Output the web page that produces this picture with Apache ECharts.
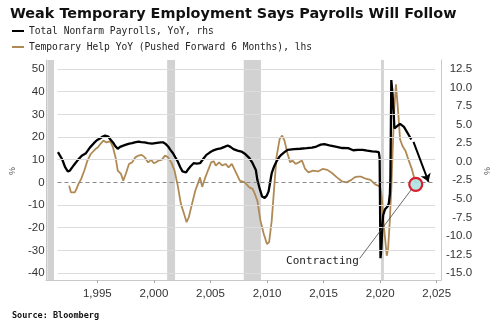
<!DOCTYPE html>
<html>
<head>
<meta charset="utf-8">
<script src="https://cdn.jsdelivr.net/npm/echarts@6/dist/echarts.min.js"></script>
<style>html,body{margin:0;padding:0;background:#fff;}#c{width:500px;height:327px;}</style>
</head>
<body>
<div id="c"></div>
<script>
// ---- data ----
const payrollYears = [1990.5,1990.64,1990.9,1991.15,1991.41,1991.6,1991.76,1992.0,1992.35,1992.7,1993.09,1993.45,1993.82,1994.1,1994.42,1994.65,1994.86,1995.0,1995.15,1995.35,1995.59,1995.8,1996.03,1996.25,1996.48,1996.8,1997.1,1997.36,1997.6,1997.95,1998.2,1998.5,1998.84,1999.2,1999.66,2000.0,2000.25,2000.45,2000.69,2000.9,2001.14,2001.35,2001.58,2001.8,2002.02,2002.2,2002.35,2002.55,2002.75,2003.05,2003.35,2003.64,2003.95,2004.23,2004.5,2004.82,2005.2,2005.56,2005.9,2006.2,2006.45,2006.73,2007.1,2007.47,2007.85,2008.21,2008.5,2008.8,2008.94,2009.15,2009.38,2009.62,2009.8,2009.98,2010.12,2010.27,2010.5,2010.71,2010.95,2011.15,2011.45,2011.74,2012.33,2012.9,2013.5,2014.0,2014.4,2014.8,2015.13,2015.6,2016.17,2016.8,2017.34,2017.8,2018.23,2018.68,2019.1,2019.56,2019.9,2020.17,2020.25,2020.33,2020.42,2020.5,2020.58,2020.75,2021.0,2021.1,2021.2,2021.25,2021.33,2021.45,2021.55,2021.62,2021.76,2021.95,2022.14,2022.5,2022.94,2023.18];
const payrollValues = [1.3,1.15,0.3,-0.7,-1.32,-1.2,-1.0,-0.4,0.25,0.8,1.15,1.9,2.5,2.9,3.17,3.4,3.52,3.5,3.4,3.0,2.6,2.1,1.75,2.0,2.14,2.3,2.45,2.5,2.6,2.7,2.65,2.6,2.5,2.45,2.55,2.6,2.6,2.4,2.05,1.6,1.15,0.6,0.03,-0.7,-1.3,-1.45,-1.45,-1.0,-0.65,-0.2,-0.25,-0.2,0.4,0.93,1.2,1.5,1.7,1.8,2.0,2.18,2.0,1.7,1.5,1.37,1.0,0.48,-0.2,-1.1,-2.44,-3.6,-4.7,-4.9,-4.6,-4.0,-2.8,-1.54,-0.6,0.03,0.6,0.93,1.3,1.6,1.7,1.75,1.83,1.9,2.05,2.3,2.36,2.2,2.05,1.85,1.83,1.55,1.6,1.6,1.5,1.4,1.35,1.3,0.5,-13.0,-11.5,-8.8,-7.2,-6.4,-6.0,-5.6,-4.3,-2.0,11.0,9.0,6.5,4.5,4.7,4.9,5.1,4.7,3.6,3.0];

const tempYears = [1991.53,1991.7,1992.06,1992.25,1992.4,1992.65,1992.94,1993.23,1993.53,1993.97,1994.2,1994.42,1994.7,1995.0,1995.3,1995.45,1995.59,1995.83,1996.03,1996.33,1996.54,1996.77,1997.07,1997.36,1997.65,1997.95,1998.24,1998.54,1998.84,1999.13,1999.35,1999.57,1999.8,2000.1,2000.4,2000.69,2000.98,2001.28,2001.58,2001.87,2002.16,2002.4,2002.6,2002.9,2003.2,2003.43,2003.64,2003.84,2004.08,2004.37,2004.67,2004.9,2005.1,2005.4,2005.7,2006.0,2006.28,2006.58,2006.88,2007.1,2007.32,2007.77,2008.2,2008.5,2008.7,2008.94,2009.23,2009.53,2009.83,2010.03,2010.27,2010.5,2010.71,2011.0,2011.24,2011.45,2011.74,2011.98,2012.19,2012.48,2012.77,2013.07,2013.36,2013.66,2014.1,2014.54,2014.98,2015.42,2015.87,2016.3,2016.75,2017.2,2017.64,2017.93,2018.2,2018.52,2018.96,2019.4,2019.84,2020.29,2020.44,2020.59,2020.73,2020.91,2021.03,2021.18,2021.33,2021.47,2021.62,2021.76,2021.85,2021.97,2022.14,2022.36,2022.65,2022.85,2023.03,2023.24,2023.44,2023.62];
const tempValues = [-1.45,-4.4,-4.4,-2.5,-0.7,1.5,5.2,9.6,12.5,14.7,15.5,16.9,18.4,17.6,18.1,17.0,15.4,11.0,5.2,3.7,0.75,3.7,8.1,8.8,11.0,11.8,12.1,11.0,8.8,9.9,8.5,8.8,9.6,9.9,11.8,11.0,8.8,5.2,-1.45,-9.5,-13.9,-17.6,-15.4,-9.5,-3.7,-0.7,2.2,-2.0,1.5,5.2,8.8,9.3,7.4,8.8,7.4,8.1,6.6,8.1,5.2,3.0,0.75,0.0,-2.2,-2.9,-5.0,-8.1,-16.9,-22.7,-27.2,-26.4,-16.9,-2.2,11.0,19.1,20.6,18.4,12.5,8.8,9.6,8.1,8.8,9.6,5.9,4.4,5.2,4.8,5.9,5.5,4.0,2.2,0.45,0.0,1.1,2.2,2.5,2.5,1.6,1.1,-0.9,-1.9,-6.0,-16.3,-23.6,-32.4,-29.5,-17.8,-3.1,16.0,33.7,43.2,42.5,30.7,19.0,16.0,13.8,10.9,10.1,5.7,2.1,-0.1];

const recessionStart = [1990.58, 2001.17, 2007.94, 2020.08];
const recessionEnd   = [1991.17, 2001.87, 2009.46, 2020.33];

const xTickYears = [1995, 2000, 2005, 2010, 2015, 2020, 2025];
const leftTickValues = [-40, -30, -20, -10, 0, 10, 20, 30, 40, 50];
const leftTicks = { min: -40, max: 50, step: 10 };
const rightTicks = { min: -15, max: 12.5, step: 2.5 };

const payrollName = 'Total Nonfarm Payrolls, YoY, rhs';
const tempName = 'Temporary Help YoY (Pushed Forward 6 Months), lhs';

// annotation anchors (data coordinates)
const circlePoint = [2023.59, -0.9];
const contractingLabel = [2014.96, -34.9];
const connectorFrom = [2018.4, -33.6];
const connectorTo = [2023.18, -3.2];
const arrowFrom = [2023.38, 2.67];
const arrowTo = [2024.77, -2.7];

// ---- chart ----
const X_MIN = 1990.46, X_MAX = 2025.38;
const pair = (xs, ys) => xs.map((x, i) => [x, ys[i]]);
const BROWN = '#b08a55';
const labelFont = 'Liberation Sans';

const gridLines = leftTickValues.filter(v => v !== 0).map(v => ({
  yAxis: v, lineStyle: { type: 'solid', color: '#dcdcdc', width: 1 }
}));

const chart = echarts.init(document.getElementById('c'), null, { renderer: 'canvas' });
chart.setOption({
  animation: false,
  backgroundColor: '#fff',
  title: [
    { text: 'Weak Temporary Employment Says Payrolls Will Follow', left: 5, top: 2,
      textStyle: { fontFamily: 'DejaVu Sans', fontWeight: 'bold', fontSize: 14.4, color: '#111' } },
    { text: 'Source: Bloomberg', left: 7, top: 306,
      textStyle: { fontFamily: 'DejaVu Sans Mono', fontWeight: 'bold', fontSize: 8.5, color: '#111' } }
  ],
  legend: {
    data: [payrollName, tempName],
    orient: 'vertical', left: 7, top: 20,
    icon: 'rect', itemWidth: 12, itemHeight: 2, itemGap: 4,
    textStyle: { fontFamily: 'DejaVu Sans Mono', fontSize: 9.6, color: '#222', lineHeight: 12 }
  },
  grid: [
    { left: 46, right: 59, top: 69, bottom: 54 },
    { left: 46, right: 59, top: 60, bottom: 47 }
  ],
  xAxis: [
    { type: 'value', gridIndex: 0, min: X_MIN, max: X_MAX, show: false },
    { type: 'value', gridIndex: 1, min: X_MIN, max: X_MAX,
      axisLine: { show: true, lineStyle: { color: '#c8c8c8' } },
      axisTick: { show: true, customValues: xTickYears, length: 3, lineStyle: { color: '#aaa' } },
      axisLabel: { customValues: xTickYears, margin: 8, fontFamily: labelFont, fontSize: 11.5, color: '#333' },
      splitLine: { show: false } }
  ],
  yAxis: [
    { type: 'value', gridIndex: 0, position: 'left', min: leftTicks.min, max: leftTicks.max, interval: leftTicks.step,
      name: '%', nameLocation: 'middle', nameGap: 36, nameRotate: 90,
      nameTextStyle: { fontSize: 9, color: '#555' },
      axisLine: { show: false }, axisTick: { show: false },
      axisLabel: { margin: 13, fontFamily: labelFont, fontSize: 11.5, color: '#333' },
      splitLine: { show: false } },
    { type: 'value', gridIndex: 0, position: 'right', min: rightTicks.min, max: rightTicks.max, interval: rightTicks.step,
      name: '%', nameLocation: 'middle', nameGap: 44, nameRotate: 90,
      nameTextStyle: { fontSize: 9, color: '#555' },
      axisLine: { show: false }, axisTick: { show: false },
      axisLabel: { margin: 37, align: 'right', fontFamily: labelFont, fontSize: 11.5, color: '#333',
        formatter: v => v.toFixed(1) },
      splitLine: { show: false } },
    { type: 'value', gridIndex: 1, position: 'left', min: 0, max: 1,
      axisLine: { show: true, lineStyle: { color: '#c8c8c8' } }, axisTick: { show: false },
      axisLabel: { show: false }, splitLine: { show: false } },
    { type: 'value', gridIndex: 1, position: 'right', min: 0, max: 1,
      axisLine: { show: true, lineStyle: { color: '#c8c8c8' } }, axisTick: { show: false },
      axisLabel: { show: false }, splitLine: { show: false } }
  ],
  series: [
    { name: 'recessions', type: 'line', xAxisIndex: 1, yAxisIndex: 2, data: [[X_MIN, 0]],
      showSymbol: false, lineStyle: { opacity: 0 }, silent: true, z: 0,
      markArea: { silent: true, itemStyle: { color: '#d2d2d2' },
        data: recessionStart.map((s, i) => [{ xAxis: s }, { xAxis: recessionEnd[i] }]) } },
    { name: 'gridlines', type: 'line', xAxisIndex: 0, yAxisIndex: 0, data: [[X_MIN, 0]],
      showSymbol: false, lineStyle: { opacity: 0 }, silent: true, z: 1,
      markLine: { silent: true, symbol: 'none', label: { show: false }, animation: false,
        data: gridLines.concat([{ yAxis: 0, lineStyle: { type: [4, 3], color: '#8a8a8a', width: 1 } }]) } },
    { name: tempName, type: 'line', xAxisIndex: 0, yAxisIndex: 0, data: pair(tempYears, tempValues),
      showSymbol: false, color: BROWN, lineStyle: { color: BROWN, width: 1.8 }, z: 3,
      markLine: { silent: true, symbol: 'none', label: { show: false },
        data: [
          [{ coord: connectorFrom }, { coord: connectorTo }]
        ],
        lineStyle: { type: 'solid', color: '#444', width: 0.8 } },
      markPoint: { silent: true,
        data: [
          { coord: circlePoint, symbol: 'circle', symbolSize: 13,
            itemStyle: { color: 'rgba(175,225,225,0.9)', borderColor: '#d61f2c', borderWidth: 2.2 },
            label: { show: false } },
          { coord: contractingLabel, symbol: 'circle', symbolSize: 0,
            label: { show: true, position: 'inside', formatter: 'Contracting',
              fontFamily: 'DejaVu Sans Mono', fontSize: 11, color: '#222' } }
        ] } },
    { name: payrollName, type: 'line', xAxisIndex: 0, yAxisIndex: 1, data: pair(payrollYears, payrollValues),
      showSymbol: false, color: '#000', lineStyle: { color: '#000', width: 2.3 }, z: 4,
      markLine: { silent: true, symbol: ['none', 'arrow'], symbolSize: 8, label: { show: false },
        lineStyle: { type: 'solid', color: '#000', width: 2 },
        data: [[{ coord: arrowFrom }, { coord: arrowTo }]] } }
  ]
});
</script>
</body>
</html>
